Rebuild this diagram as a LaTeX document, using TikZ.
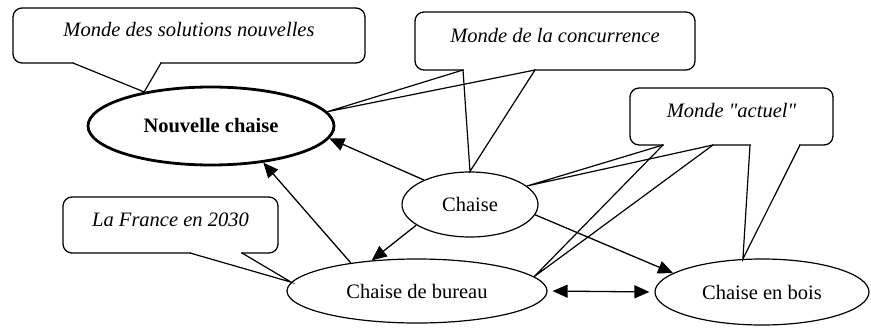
\documentclass[tikz,border=0pt]{standalone}
\usepackage{fontspec}
\setmainfont{Liberation Serif}[Ligatures=TeXOff]
\usetikzlibrary{shapes.geometric,arrows.meta}
\begin{document}
\begin{tikzpicture}[x=1pt,y=-1pt,
  bubble/.style={draw, rounded corners=9pt, line width=1.3pt, fill=white, inner sep=0pt,
    font=\fontsize{20.5}{24}\selectfont\itshape, text height=14pt, text depth=12pt},
  oval/.style={draw, ellipse, line width=1.2pt, inner sep=0pt, fill=white,
    font=\fontsize{20.5}{24}\selectfont},
  link/.style={line width=1.2pt},
  gap/.style={fill=white, draw=none},
  arr/.style={line width=1.3pt, -{Triangle[length=15pt,width=13pt]}},
  arrb/.style={line width=1.3pt, {Triangle[length=15pt,width=13pt]}-{Triangle[length=15pt,width=13pt]}}
]
\useasboundingbox (0,0) rectangle (871,327);

% callout boxes
\node[bubble, minimum width=352pt, minimum height=55pt] (c1) at (189,35.5) {Monde des solutions nouvelles};
\node[bubble, minimum width=280pt, minimum height=58pt] (c2) at (555,41) {Monde de la concurrence};
\node[bubble, minimum width=203pt, minimum height=57pt] (c3) at (731.5,116.5) {Monde "actuel"};
\node[bubble, minimum width=215pt, minimum height=56pt] (c4) at (170.5,225) {La France en 2030};

% ellipses
\node[oval, line width=2.8pt, minimum width=246pt, minimum height=78pt, font=\fontsize{20.5}{24}\selectfont\bfseries] (nouv) at (211,126) {Nouvelle chaise};
\node[oval, minimum width=136pt, minimum height=65pt] (chaise) at (470,204.5) {Chaise};
\node[oval, minimum width=260pt, minimum height=64pt] (bureau) at (417,291) {Chaise de bureau};
\node[oval, minimum width=214pt, minimum height=66pt] (bois) at (762,292) {Chaise en bois};

% callout base points
\coordinate (c1a) at (73,63);
\coordinate (c1b) at (161,63);
\coordinate (c2a) at (463,70);
\coordinate (c2b) at (535,70);
\coordinate (c3a) at (663,145);
\coordinate (c3b) at (713,145);
\coordinate (c3c) at (750,145);
\coordinate (c3d) at (800,145);
\coordinate (c4a) at (190,253);
\coordinate (c4b) at (242,253);

% openings in the box borders
\fill[gap] ([shift={(1,-2)}]c1a) rectangle ([shift={(-1,2)}]c1b);
\fill[gap] ([shift={(1,-2)}]c2a) rectangle ([shift={(-1,2)}]c2b);
\fill[gap] ([shift={(1,-2)}]c3a) rectangle ([shift={(-1,2)}]c3b);
\fill[gap] ([shift={(1,-2)}]c3c) rectangle ([shift={(-1,2)}]c3d);
\fill[gap] ([shift={(1,-2)}]c4a) rectangle ([shift={(-1,2)}]c4b);

% callout pointers
\draw[link] (c1a) -- (nouv.153) -- (c1b);
\draw[link] (c2a) -- (chaise.north) -- (c2b);
\draw[link] (c2a) -- (nouv.7) -- (c2b);
\draw[link] (c3a) -- (chaise.18) -- (c3b);
\draw[link] (c3a) -- (bureau.7) -- (c3b);
\draw[link] (c3c) -- (bois.120) -- (c3d);
\draw[link] (c4a) -- (bureau.176) -- (c4b);

% arrows
\draw[arr] (chaise.152) -- (nouv.-6.5);
\draw[arr] (chaise.201) -- (bureau.146.6);
\draw[arr] (bureau.157.5) -- (nouv.-35.4);
\draw[arr] (chaise.-9) -- (bois.168);
\draw[arrb, shorten <=5pt, shorten >=5pt] (bureau.east) -- (bois.west);
\end{tikzpicture}
\end{document}
